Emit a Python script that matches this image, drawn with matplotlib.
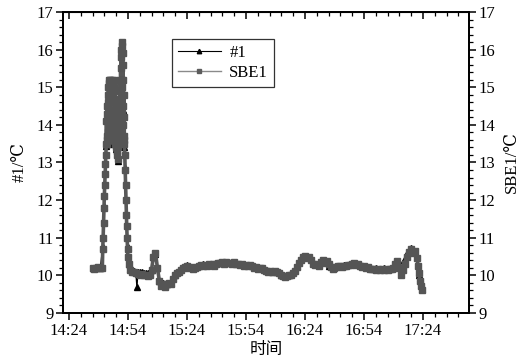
import numpy as np
import matplotlib
matplotlib.use("Agg")
import matplotlib.pyplot as plt
from matplotlib.ticker import MultipleLocator
from matplotlib.lines import Line2D

plt.rcParams['font.family'] = ['Liberation Serif', 'DejaVu Serif', 'DejaVu Sans']

# ---------------- data (time in minutes after 14:24) ----------------
tick_minutes = [0, 30, 60, 90, 120, 150, 180]
tick_labels = ["14:24", "14:54", "15:24", "15:54", "16:24", "16:54", "17:24"]

# start plateau
t_start = [12, 13, 14, 15, 16, 17]
v_start = [10.2, 10.18, 10.2, 10.22, 10.2, 10.2]
# rise
t_rise = [17.2, 17.4, 17.6, 17.8, 18.0, 18.2, 18.4, 18.6, 18.8]
v_rise = [10.7, 11.0, 11.4, 11.8, 12.1, 12.4, 12.7, 12.95, 13.2]
# warm lobe (t 19.0 .. 25.9, step 0.1)
t_lobe = list(np.round(np.arange(19.0, 25.95, 0.1), 2))
v_lobe = [13.5, 14.1, 13.6, 14.3, 13.5, 14.5, 13.7, 14.6, 13.6, 14.8,
          13.8, 15.0, 13.7, 15.2, 14.0, 15.1, 13.6, 15.2, 14.2, 14.9,
          13.7, 15.2, 14.4, 15.0, 13.8, 15.15, 14.1, 14.9, 13.6, 15.2,
          14.3, 15.0, 13.8, 15.1, 14.0, 14.8, 13.6, 15.2, 14.2, 14.9,
          13.7, 15.0, 14.0, 14.7, 13.5, 14.9, 13.9, 14.5, 13.4, 14.6,
          13.7, 14.4, 13.3, 14.5, 13.6, 14.2, 13.2, 14.3, 13.5, 14.0,
          13.1, 13.9, 13.4, 14.2, 13.6, 14.4, 13.7, 14.6, 13.8, 14.9]
# spike (t 26.0 .. 28.2)
t_spike = list(np.round(np.arange(26.0, 28.25, 0.1), 2))
v_spike = [14.2, 15.2, 14.0, 15.5, 14.4, 15.8, 14.6, 16.0, 15.0, 16.2,
           15.2, 16.1, 14.8, 15.9, 14.5, 15.6, 14.0, 15.2, 13.7, 14.8,
           13.6, 14.2, 13.5]
# descent
t_desc = [28.4, 28.6, 28.8, 29.0, 29.2, 29.4, 29.6, 29.8, 30.0, 30.4]
v_desc = [13.2, 12.8, 12.4, 12.0, 11.6, 11.3, 11.0, 10.7, 10.5, 10.3]
# remainder, 1-minute steps t 31 .. 177
t_rest = list(range(31, 178))
v_rest = [10.15, 10.1, 10.08, 10.05, 10.04, 10.02, 10.03, 10.0, 10.01, 9.99, 10.0,   # 31-41
          10.15, 10.5, 10.6, 10.2, 9.85,                                          # 42-46
          9.72, 9.78, 9.7, 9.76, 9.8, 9.78,                                       # 47-52
          9.9, 10.0, 10.05, 10.1, 10.15, 10.2, 10.22,                             # 53-59
          10.25, 10.2, 10.22, 10.18, 10.2, 10.22,                                 # 60-65
          10.25, 10.27, 10.24, 10.28, 10.26, 10.3, 10.27, 10.29, 10.26, 10.3, 10.32,  # 66-76
          10.33, 10.35, 10.3, 10.36, 10.32, 10.34, 10.3, 10.35, 10.31, 10.3,      # 77-86
          10.28, 10.3, 10.26, 10.28, 10.25, 10.27, 10.24,                         # 87-93
          10.2, 10.22, 10.18, 10.2, 10.19, 10.15, 10.12,                          # 94-100
          10.1, 10.12, 10.08, 10.1, 10.11, 10.08, 10.05,                          # 101-107
          10.0, 9.98, 9.95, 9.97, 10.0, 10.02, 10.05,                             # 108-114
          10.12, 10.22, 10.32, 10.4, 10.48, 10.52,                                # 115-120
          10.45, 10.5, 10.4, 10.3,                                                # 121-124
          10.28, 10.3, 10.25,                                                     # 125-127
          10.35, 10.4, 10.32, 10.38, 10.3, 10.22,                                 # 128-133
          10.18, 10.2, 10.22,                                                     # 134-136
          10.24, 10.25, 10.22, 10.26, 10.24, 10.28, 10.27,                        # 137-143
          10.3, 10.32, 10.28, 10.3, 10.26,                                        # 144-148
          10.22, 10.24, 10.2, 10.22, 10.18,                                       # 149-153
          10.16, 10.18, 10.14, 10.17, 10.15, 10.18, 10.14, 10.16, 10.15, 10.18, 10.16, 10.2,  # 154-165
          10.3, 10.38, 10.2, 10.0, 10.15,                                         # 166-170
          10.3, 10.5, 10.62, 10.7, 10.6, 10.65, 10.45]                            # 171-177
# end drop
t_end = [177.5, 178.0, 178.5, 179.0, 179.5]
v_end = [10.25, 10.05, 9.85, 9.72, 9.62]

sbe1_t = t_start + t_rise + t_lobe + t_spike + t_desc + t_rest + t_end
sbe1_v = v_start + v_rise + v_lobe + v_spike + v_desc + v_rest + v_end

# sensor #1 (mostly coincides with SBE1)
n1_t = [12, 14, 16, 17.2, 17.8, 18.4, 19.0, 19.6, 20.2, 20.8, 21.4, 22.0, 22.6,
        23.2, 23.8, 24.4, 25.0, 25.6, 26.2, 26.8, 27.4, 28.0, 28.6, 29.2, 29.8,
        30.4, 31, 32, 33, 34, 34.6, 35, 36, 37, 38, 39, 40, 41, 42, 43, 44, 45,
        46, 48, 50, 52, 54, 56, 58, 60, 64, 68, 72, 76, 80, 84, 88, 92, 96, 100,
        104, 108, 112, 116, 120, 124, 128, 132, 136, 140, 144, 148, 152, 156,
        160, 164, 168, 172, 174, 176, 178.0, 178.5, 179.5]
n1_v = [10.2, 10.22, 10.2, 10.75, 11.85, 12.75, 13.45, 13.5, 13.6, 14.3, 13.65,
        14.35, 13.5, 14.1, 13.35, 13.7, 13.05, 13.6, 13.8, 14.5, 14.4, 13.4,
        12.85, 11.65, 10.75, 10.3, 10.18, 10.14, 10.12, 10.1, 9.69, 10.1, 10.08,
        10.08, 10.06, 10.06, 10.05, 10.05, 10.15, 10.5, 10.58, 10.2, 9.85, 9.8,
        9.78, 9.8, 10.02, 10.12, 10.22, 10.27, 10.22, 10.3, 10.3, 10.34, 10.36,
        10.35, 10.3, 10.28, 10.22, 10.15, 10.12, 10.02, 10.02, 10.25, 10.5,
        10.32, 10.36, 10.25, 10.24, 10.28, 10.32, 10.28, 10.22, 10.2, 10.2,
        10.2, 10.22, 10.6, 10.72, 10.62, 10.0, 9.93, 9.65]

# ---------------- figure ----------------
fig = plt.figure(figsize=(5.19, 3.62), dpi=100)
ax = fig.add_axes([0.1214, 0.1354, 0.7823, 0.8315])

black_leg = dict(color='black', lw=0.8, marker='^', ms=3.2, mfc='black', mec='black')
gray_leg = dict(color='#8a8a8a', lw=1.0, marker='s', ms=2.6, mfc='#5c5c5c', mec='#5c5c5c')

ax.plot(n1_t, n1_v, color='black', lw=1.0, marker='^', ms=4.0,
        mfc='black', mec='black', zorder=2)
ax.plot(sbe1_t, sbe1_v, color='#585858', lw=2.6, marker='s', ms=4.2,
        mfc='#555555', mec='#555555', zorder=3)

ax.set_xlim(-3, 203.4)
ax.set_ylim(9, 17)
ax.set_xticks(tick_minutes)
ax.set_xticklabels(tick_labels)
ax.xaxis.set_minor_locator(MultipleLocator(6))
ax.yaxis.set_major_locator(MultipleLocator(1))
ax.yaxis.set_minor_locator(MultipleLocator(0.2))

for s in ax.spines.values():
    s.set_linewidth(1.3)

ax.tick_params(axis='both', which='major', direction='out', length=5, width=1.1,
               labelsize=12, pad=2, colors='black')
ax.tick_params(axis='both', which='minor', direction='out', length=3, width=0.9)
ax.tick_params(axis='y', right=False, which='both')
ax.tick_params(axis='x', top=False, which='both')

# top ticks pointing inward
top = ax.secondary_xaxis('top')
top.set_xticks(tick_minutes)
top.set_xticklabels([])
top.xaxis.set_minor_locator(MultipleLocator(6))
top.tick_params(which='major', direction='in', length=5, width=1.1)
top.tick_params(which='minor', direction='in', length=3, width=0.9)

# right axis
ax2 = ax.twinx()
ax2.set_ylim(9, 17)
ax2.yaxis.set_major_locator(MultipleLocator(1))
ax2.yaxis.set_minor_locator(MultipleLocator(0.2))
ax2.tick_params(which='major', direction='out', length=5, width=1.1, labelsize=12, pad=2)
ax2.tick_params(which='minor', direction='out', length=3, width=0.9)
for s in ax2.spines.values():
    s.set_linewidth(1.3)

ax.set_ylabel('#1/℃', fontsize=12, labelpad=6)
ax2.set_ylabel('SBE1/℃', fontsize=12, labelpad=6)
ax.set_xlabel('时间', fontsize=12, family=['Noto Sans CJK SC'], labelpad=2)

handles = [Line2D([], [], **black_leg), Line2D([], [], **gray_leg)]
leg = ax.legend(handles, ['#1', 'SBE1'], loc='upper left', bbox_to_anchor=(0.268, 0.91),
                fontsize=12, frameon=True, fancybox=False, numpoints=1,
                handlelength=2.6, handletextpad=0.5, borderpad=0.35, labelspacing=0.25,
                borderaxespad=0)
leg.get_frame().set_edgecolor('black')
leg.get_frame().set_linewidth(0.9)

fig.savefig('out.png', dpi=100)
